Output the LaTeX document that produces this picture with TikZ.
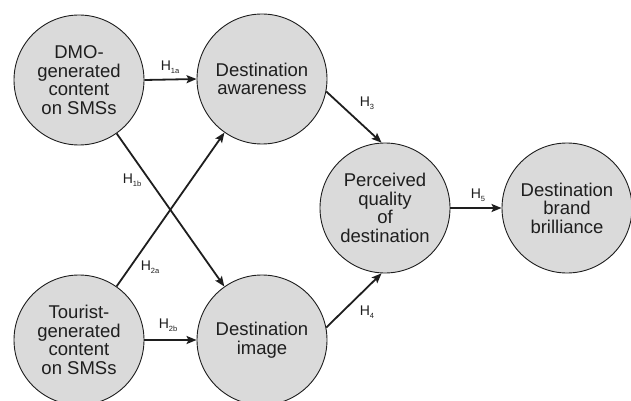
\documentclass[tikz,border=0pt]{standalone}
\usepackage{fontspec}
\setmainfont{Liberation Sans}
\usetikzlibrary{arrows.meta}
\definecolor{nodefill}{RGB}{218,218,218}
\definecolor{ink}{RGB}{30,30,30}
\newcommand{\hyp}[1]{H\raisebox{-0.4ex}{\fontsize{7.5}{8}\selectfont #1}}
\begin{document}
\begin{tikzpicture}[x=1pt,y=-1pt,
  construct/.style={circle,draw=ink,line width=0.9pt,fill=nodefill,minimum size=130pt,inner sep=0pt,align=center,text=ink,font=\fontsize{18.5}{18.5}\selectfont},
  path/.style={draw=ink,line width=1.8pt,-{Stealth[length=10pt,width=8pt,inset=2pt]}},
  hlabel/.style={text=ink,font=\fontsize{14}{15}\selectfont,inner sep=0pt}]
\useasboundingbox (0,0) rectangle (631,401);
\node[construct] (dmo) at (79,80) {DMO-\\generated\\content\\on SMSs};
\node[construct] (aw) at (262,79) {Destination\\awareness};
\node[construct] (tour) at (79,340) {Tourist-\\generated\\content\\on SMSs};
\node[construct] (img) at (262,340) {Destination\\image};
\node[construct] (pq) at (385,208) {Perceived\\quality\\of\\destination};
\node[construct] (bb) at (567,208) {Destination\\brand\\brilliance};
\draw[path] (dmo.east) -- (aw.west);
\draw[path] (tour.east) -- (img.west);
\draw[path] (dmo) -- (img);
\draw[path] (tour) -- (aw);
\draw[path] (aw.-11) -- (pq.93);
\draw[path] (img.11) -- (pq.-93);
\draw[path] (pq.east) -- (bb.west);
\node[hlabel] (h1a) at (170,67) {\hyp{1a}};
\node[hlabel] (h1b) at (132,180) {\hyp{1b}};
\node[hlabel] (h2a) at (150,267) {\hyp{2a}};
\node[hlabel] (h2b) at (168,325) {\hyp{2b}};
\node[hlabel] (h3) at (367,103) {\hyp{3}};
\node[hlabel] (h4) at (367,312) {\hyp{4}};
\node[hlabel] (h5) at (478,195) {\hyp{5}};
\end{tikzpicture}
\end{document}
